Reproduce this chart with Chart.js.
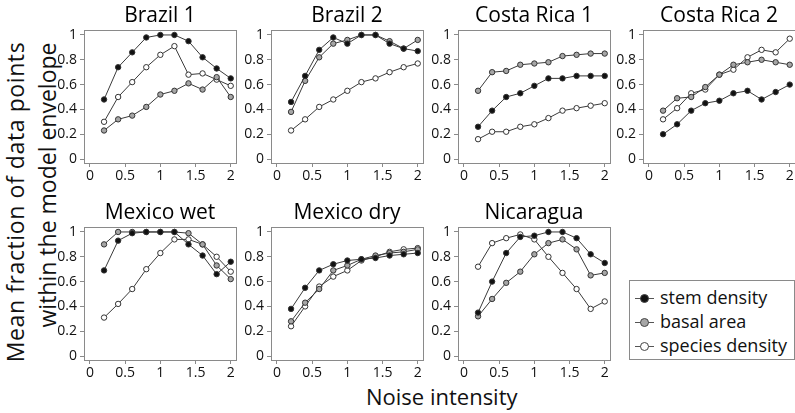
<!DOCTYPE html>
<html>
<head>
<meta charset="utf-8">
<script src="https://cdn.jsdelivr.net/npm/chart.js@4/dist/chart.umd.min.js"></script>
<style>
  body { margin: 0; background: #fff; font-family: 'Open Sans', sans-serif; }
  #wrap { position: relative; width: 795px; height: 413px; overflow: hidden; }
  canvas { position: absolute; }
  .ytitle { position: absolute; font-size: 23px; line-height: 30px; white-space: nowrap; color: #111;
            transform: translate(-50%, -50%) rotate(-90deg); }
  #xtitle { position: absolute; left: 366px; top: 385px; font-size: 22px; line-height: 22px; color: #111; white-space: nowrap; }
  #legend { position: absolute; left: 629px; top: 280px; width: 164px; height: 78px; border: 1px solid #8a8a8a; }
  .li { position: absolute; left: 0; height: 24px; width: 164px; font-size: 18px; line-height: 24px; color: #111; }
  .li .seg { position: absolute; left: 5px; top: 12px; width: 19px; border-top: 1px solid #555; }
  .li .dot { position: absolute; left: 10px; top: 8px; width: 7px; height: 7px; border-radius: 50%; border: 1px solid #444; }
  .li .txt { position: absolute; left: 30px; top: -1px; }
</style>
</head>
<body>
<div id="wrap">
  <div class="ytitle" style="left:15px; top:202px; letter-spacing:0.6px">Mean fraction of data points</div>
  <div class="ytitle" style="left:47px; top:185px">within the model envelope</div>
  <div id="xtitle">Noise intensity</div>
  <div id="legend">
    <div class="li" style="top:5px"><span class="seg"></span><span class="dot" style="background:#111"></span><span class="txt">stem density</span></div>
    <div class="li" style="top:29px"><span class="seg"></span><span class="dot" style="background:#a6a6a6"></span><span class="txt">basal area</span></div>
    <div class="li" style="top:53px"><span class="seg"></span><span class="dot" style="background:#fff"></span><span class="txt">species density</span></div>
  </div>
</div>
<script>
// noise levels on the x axis
const noise = [0.2, 0.4, 0.6, 0.8, 1.0, 1.2, 1.4, 1.6, 1.8, 2.0];
const xTicks = [0, 0.5, 1, 1.5, 2];
const yTicks = [0, 0.2, 0.4, 0.6, 0.8, 1];

const brazil1Stem    = [0.48, 0.74, 0.86, 0.98, 1.00, 1.00, 0.95, 0.82, 0.73, 0.65];
const brazil1Basal   = [0.23, 0.32, 0.35, 0.42, 0.52, 0.55, 0.61, 0.56, 0.66, 0.50];
const brazil1Species = [0.30, 0.50, 0.62, 0.74, 0.84, 0.91, 0.68, 0.69, 0.64, 0.59];

const brazil2Stem    = [0.46, 0.67, 0.88, 0.98, 0.93, 1.00, 1.00, 0.93, 0.89, 0.87];
const brazil2Basal   = [0.38, 0.63, 0.82, 0.93, 0.96, 1.00, 1.00, 0.95, 0.89, 0.96];
const brazil2Species = [0.23, 0.32, 0.42, 0.48, 0.55, 0.62, 0.65, 0.70, 0.74, 0.77];

const costaRica1Stem    = [0.26, 0.39, 0.50, 0.53, 0.59, 0.65, 0.65, 0.67, 0.67, 0.67];
const costaRica1Basal   = [0.55, 0.70, 0.71, 0.76, 0.77, 0.78, 0.83, 0.84, 0.85, 0.85];
const costaRica1Species = [0.16, 0.22, 0.22, 0.26, 0.28, 0.33, 0.39, 0.41, 0.43, 0.45];

const costaRica2Stem    = [0.20, 0.28, 0.39, 0.45, 0.47, 0.53, 0.55, 0.48, 0.54, 0.60];
const costaRica2Basal   = [0.39, 0.49, 0.50, 0.58, 0.68, 0.76, 0.78, 0.80, 0.78, 0.76];
const costaRica2Species = [0.32, 0.41, 0.53, 0.56, 0.68, 0.72, 0.82, 0.88, 0.86, 0.97];

const mexicoWetStem    = [0.69, 0.93, 0.99, 1.00, 1.00, 1.00, 0.90, 0.81, 0.66, 0.76];
const mexicoWetBasal   = [0.90, 1.00, 1.00, 1.00, 1.00, 1.00, 0.99, 0.90, 0.73, 0.62];
const mexicoWetSpecies = [0.31, 0.42, 0.54, 0.70, 0.83, 0.94, 0.94, 0.90, 0.80, 0.68];

const mexicoDryStem    = [0.38, 0.55, 0.69, 0.74, 0.77, 0.78, 0.79, 0.81, 0.82, 0.83];
const mexicoDryBasal   = [0.28, 0.43, 0.54, 0.69, 0.73, 0.78, 0.81, 0.83, 0.84, 0.86];
const mexicoDrySpecies = [0.24, 0.40, 0.56, 0.64, 0.69, 0.77, 0.80, 0.84, 0.86, 0.87];

const nicaraguaStem    = [0.35, 0.60, 0.83, 0.96, 0.97, 1.00, 1.00, 0.95, 0.82, 0.75];
const nicaraguaBasal   = [0.32, 0.46, 0.59, 0.68, 0.82, 0.91, 0.94, 0.86, 0.65, 0.67];
const nicaraguaSpecies = [0.72, 0.91, 0.95, 0.98, 0.94, 0.80, 0.67, 0.54, 0.38, 0.44];

// layout: plot box left edge and top of each canvas
const panels = [
  { title: 'Brazil 1',     left: 84,  top: 0,   s: [brazil1Stem, brazil1Basal, brazil1Species] },
  { title: 'Brazil 2',     left: 271, top: 0,   s: [brazil2Stem, brazil2Basal, brazil2Species] },
  { title: 'Costa Rica 1', left: 458, top: 0,   s: [costaRica1Stem, costaRica1Basal, costaRica1Species] },
  { title: 'Costa Rica 2', left: 643, top: 0,   s: [costaRica2Stem, costaRica2Basal, costaRica2Species] },
  { title: 'Mexico wet',   left: 84,  top: 197, s: [mexicoWetStem, mexicoWetBasal, mexicoWetSpecies] },
  { title: 'Mexico dry',   left: 271, top: 197, s: [mexicoDryStem, mexicoDryBasal, mexicoDrySpecies] },
  { title: 'Nicaragua',    left: 458, top: 197, s: [nicaraguaStem, nicaraguaBasal, nicaraguaSpecies] }
];
const fills = ['#111111', '#a6a6a6', '#ffffff'];

const AXIS_W = 45, BOX_W = 152, PAD_R = 6, BOX_H = 133, TITLE_H = 30, XAXIS_H = 27;

// grey frame round the plot area
const frame = {
  id: 'frame',
  beforeDatasetsDraw(chart) {
    const a = chart.chartArea, ctx = chart.ctx;
    ctx.save();
    ctx.strokeStyle = '#8a8a8a';
    ctx.lineWidth = 1;
    ctx.strokeRect(Math.round(a.left) + 0.5, Math.round(a.top) + 0.5, Math.round(a.right - a.left), Math.round(a.bottom - a.top));
    ctx.restore();
  }
};

const tickFont = { family: 'Open Sans', size: 14 };
const wrap = document.getElementById('wrap');

panels.forEach(p => {
  const c = document.createElement('canvas');
  c.width = AXIS_W + BOX_W + PAD_R;
  c.height = TITLE_H + BOX_H + XAXIS_H;
  c.style.left = (p.left - AXIS_W) + 'px';
  c.style.top = p.top + 'px';
  wrap.appendChild(c);

  new Chart(c, {
    type: 'line',
    data: {
      datasets: p.s.map((vals, i) => ({
        data: noise.map((x, j) => ({ x: x, y: vals[j] })),
        borderColor: '#3a3a3a',
        borderWidth: 1,
        pointRadius: 2.7,
        pointBorderWidth: 1,
        pointBorderColor: '#333',
        pointBackgroundColor: fills[i],
        tension: 0,
        clip: false
      }))
    },
    options: {
      responsive: false,
      animation: false,
      layout: { padding: { left: 0, right: PAD_R, top: 0, bottom: 0 } },
      plugins: {
        legend: { display: false },
        tooltip: { enabled: false },
        title: {
          display: true, text: p.title, fullSize: false, color: '#000',
          font: { family: 'Open Sans', size: 21, weight: 'normal', lineHeight: 1.2 },
          padding: { top: 3, bottom: 1.8 }
        }
      },
      scales: {
        x: {
          type: 'linear', min: -0.085, max: 2.075,
          afterBuildTicks: s => { s.ticks = xTicks.map(v => ({ value: v })); },
          afterFit: s => { s.height = XAXIS_H; },
          grid: { drawOnChartArea: false, drawTicks: true, tickLength: 4, color: '#8a8a8a' },
          border: { display: false },
          ticks: { font: tickFont, color: '#111', padding: 1, maxRotation: 0, autoSkip: false, callback: v => String(v) }
        },
        y: {
          min: -0.032, max: 1.04,
          afterBuildTicks: s => { s.ticks = yTicks.map(v => ({ value: v })); },
          afterFit: s => { s.width = AXIS_W; },
          grid: { drawOnChartArea: false, drawTicks: true, tickLength: 4, color: '#8a8a8a' },
          border: { display: false },
          ticks: { font: tickFont, color: '#111', padding: 3, autoSkip: false, callback: v => String(v) }
        }
      }
    },
    plugins: [frame]
  });
});
</script>
</body>
</html>
